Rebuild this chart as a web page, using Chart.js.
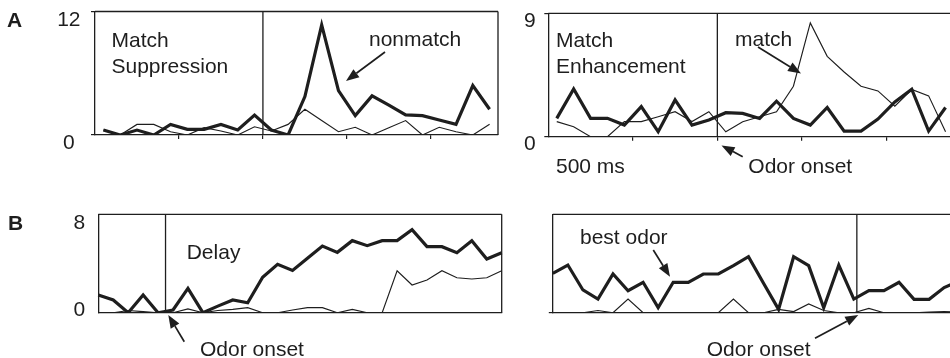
<!DOCTYPE html>
<html>
<head>
<meta charset="utf-8">
<script src="https://cdn.jsdelivr.net/npm/chart.js@4.4.0/dist/chart.umd.min.js"></script>
<style>
  html, body { margin: 0; padding: 0; background: #fff; overflow: hidden; width: 950px; height: 358px; }
  canvas { position: absolute; }
</style>
</head>
<body>
<canvas id="aLeft"  width="520" height="180" style="left:0;top:0"></canvas>
<canvas id="aRight" width="450" height="180" style="left:520px;top:0"></canvas>
<canvas id="bLeft"  width="520" height="178" style="left:0;top:180px"></canvas>
<canvas id="bRight" width="450" height="178" style="left:520px;top:180px"></canvas>
<script>
// Time bins (one firing-rate sample per bin)
const binsA = Array.from({ length: 24 }, (_, i) => String(i + 1));
const binsB = Array.from({ length: 28 }, (_, i) => String(i + 1));

// A, left: match suppression (spikes/s)
const suppNonmatch = [0.48, 0, 0.48, 0, 1.03, 0.55, 0.55, 1.03, 0.48, 1.94, 0.48, 0,
                      3.73, 10.7, 4.31, 1.88, 3.8, 2.9, 1.95, 1.88, 1.46, 1.04, 4.8, 2.5];
const suppMatch    = [0.48, 0, 1.03, 1.03, 0.32, 0, 0.71, 0.39, 0, 0.8, 0.39, 1.03,
                      2.5, 1.4, 0.32, 0.75, 0, 0.71, 1.4, 0, 0.75, 0.32, 0, 1.04];

// A, right: match enhancement
const enhNonmatch  = [1.34, 3.48, 1.34, 1.34, 0.85, 2.19, 0.36, 2.68, 0.85, 1.22, 1.75, 1.7,
                      1.33, 2.59, 1.33, 0.85, 2.13, 0.41, 0.41, 1.28, 2.54, 3.46, 0.41, 2.13];
const enhMatch     = [1.1, 0.73, 0, 0, 1.1, 1.1, 1.46, 1.82, 1.1, 1.82, 0.36, 1.09,
                      1.45, 1.82, 3.68, 8.3, 5.86, 4.72, 3.68, 3.34, 2.23, 3.44, 2.98, 0.36];

// B, left: delay activity
const delayBest    = [1.62, 1.16, 0, 1.62, 0, 0.25, 2.23, 0, 0.6, 1.16, 0.91, 3.24, 4.43, 3.87,
                      4.97, 6.1, 5.52, 6.59, 6.13, 6.59, 6.59, 7.6, 6.04, 6.04, 5.49, 6.59, 4.91, 5.49];
const delayOther   = [0, 0, 0.2, 0.1, 0, 0, 0.35, 0, 0.2, 0.3, 0.46, 0, 0, 0.25,
                      0.46, 0.46, 0, 0.3, 0, 0, 3.84, 2.53, 2.99, 3.84, 3.2, 3.08, 3.2, 3.84];

// B, right: odor selectivity
const odorBest     = [3.6, 4.36, 2.08, 1.25, 3.54, 2.01, 2.78, 0.46, 2.78, 2.78, 3.54, 3.54, 4.3, 5.12,
                      2.7, 0.3, 5.12, 4.3, 0.46, 4.36, 1.25, 2.01, 2.01, 2.78, 1.22, 1.22, 2.3, 2.9];
const odorOther    = [0, 0, 0, 0.2, 0, 1.25, 0, 0, 0, 0, 0, 0, 1.25, 0,
                      0, 0.3, 0.1, 0.8, 0.2, 0, 0, 0.4, 0, 0, 0, 0.05, 0.1, 0.05];

// Y-axis ranges and labelled ticks
const yMaxA = [12, 9];
const yTicksA = [[0, 12], [0, 9]];
const yMaxB = 9;
const yTicksB = [0, 8];

const INK = '#1e1e1e';
const FONT = '"Liberation Sans", Arial, Helvetica, sans-serif';
const TEXT_SIZE = 21;

function drawArrow(ctx, x1, y1, x2, y2) {
  const ang = Math.atan2(y2 - y1, x2 - x1);
  const head = 13, half = 5;
  const bx = x2 - head * Math.cos(ang), by = y2 - head * Math.sin(ang);
  ctx.beginPath();
  ctx.moveTo(x1, y1);
  ctx.lineTo(bx, by);
  ctx.lineWidth = 1.7;
  ctx.stroke();
  ctx.beginPath();
  ctx.moveTo(x2, y2);
  ctx.lineTo(bx + half * Math.sin(ang), by - half * Math.cos(ang));
  ctx.lineTo(bx - half * Math.sin(ang), by + half * Math.cos(ang));
  ctx.closePath();
  ctx.fill();
}

// Frame (top / right edges), stimulus-onset line, captions and arrows
function decor(cfg) {
  return {
    id: 'decor',
    afterDraw(chart) {
      const { ctx, chartArea: a, scales: { x } } = chart;
      ctx.save();
      ctx.strokeStyle = INK;
      ctx.fillStyle = INK;
      ctx.lineWidth = 1.3;
      ctx.beginPath();
      ctx.moveTo(a.left, a.top);
      ctx.lineTo(a.right, a.top);
      if (cfg.rightEdge) {
        ctx.moveTo(a.right, a.top);
        ctx.lineTo(a.right, a.bottom);
      }
      const ox = x.getPixelForValue(cfg.onset);
      ctx.moveTo(ox, a.top);
      ctx.lineTo(ox, a.bottom);
      ctx.stroke();

      ctx.textBaseline = 'alphabetic';
      ctx.textAlign = 'left';
      (cfg.texts || []).forEach(t => {
        ctx.font = (t.bold ? 'bold ' : '') + TEXT_SIZE + 'px ' + FONT;
        ctx.fillText(t.t, t.x, t.y);
      });
      (cfg.arrows || []).forEach(r => drawArrow(ctx, r[0], r[1], r[2], r[3]));
      ctx.restore();
    }
  };
}

function panel(id, cfg) {
  const yTickVals = cfg.yTicks;
  return new Chart(document.getElementById(id), {
    type: 'line',
    data: {
      labels: cfg.bins,
      datasets: [
        { data: cfg.thin,  borderColor: INK, borderWidth: 1.15 },
        { data: cfg.thick, borderColor: INK, borderWidth: 3.2 }
      ]
    },
    options: {
      responsive: false,
      animation: false,
      devicePixelRatio: 1,
      layout: { padding: cfg.pad },
      elements: {
        point: { radius: 0, hoverRadius: 0 },
        line: { tension: 0, fill: false, borderJoinStyle: 'miter', borderCapStyle: 'butt' }
      },
      plugins: { legend: { display: false }, tooltip: { enabled: false } },
      scales: {
        x: {
          type: 'category',
          offset: cfg.offset,
          border: { display: true, color: INK, width: 1.3 },
          grid: {
            display: cfg.xTickMarks,
            offset: cfg.offset,
            drawOnChartArea: false,
            drawTicks: true,
            tickLength: 4,
            lineWidth: 1.2,
            color: c => (c.index > 0 && c.index % 5 === 0) ? INK : 'rgba(0,0,0,0)'
          },
          ticks: { display: true, autoSkip: false, maxRotation: 0, callback: () => '' },
          afterFit: s => { s.height = cfg.xHeight; s.paddingLeft = 0; s.paddingRight = 0; }
        },
        y: {
          min: 0,
          max: cfg.yMax,
          border: { display: true, color: INK, width: 1.3 },
          afterBuildTicks: s => { s.ticks = yTickVals.map(v => ({ value: v })); },
          grid: {
            drawOnChartArea: false,
            drawTicks: cfg.yTickMarks,
            tickLength: 4,
            lineWidth: 1.2,
            color: INK
          },
          ticks: {
            display: cfg.yLabels,
            color: INK,
            font: { family: FONT, size: TEXT_SIZE },
            padding: cfg.yPad,
            crossAlign: cfg.crossAlign || 'near',
            labelOffset: cfg.labelOffset || 0
          },
          afterFit: s => { s.width = cfg.yWidth; s.paddingTop = 0; s.paddingBottom = 0; }
        }
      }
    },
    plugins: [decor(cfg)]
  });
}

panel('aLeft', {
  bins: binsA, thick: suppNonmatch, thin: suppMatch,
  yMax: yMaxA[0], yTicks: yTicksA[0],
  pad: { left: 0, top: 11.5, right: 22, bottom: 0 },
  yWidth: 95, xHeight: 45, offset: true, onset: 9.5,
  xTickMarks: true, yTickMarks: true, yLabels: true,
  yPad: 10.5, crossAlign: 'center', labelOffset: 8.5, rightEdge: true,
  texts: [
    { t: 'A', x: 7, y: 27, bold: true },
    { t: 'Match', x: 111.5, y: 47 },
    { t: 'Suppression', x: 111.5, y: 72.5 },
    { t: 'nonmatch', x: 369, y: 46 }
  ],
  arrows: [[385, 52, 346, 81]]
});

panel('aRight', {
  bins: binsA, thick: enhNonmatch, thin: enhMatch,
  yMax: yMaxA[1], yTicks: yTicksA[1],
  pad: { left: 0, top: 13.3, right: 16, bottom: 0 },
  yWidth: 28.3, xHeight: 43.3, offset: true, onset: 9.5,
  xTickMarks: true, yTickMarks: true, yLabels: true,
  yPad: 8.5, crossAlign: 'center', labelOffset: 7.5, rightEdge: false,
  texts: [
    { t: 'Match', x: 36, y: 47 },
    { t: 'Enhancement', x: 36, y: 72.5 },
    { t: 'match', x: 215, y: 46 },
    { t: '500 ms', x: 36, y: 172.5 },
    { t: 'Odor onset', x: 228.3, y: 172.5 }
  ],
  arrows: [[222.7, 156.7, 201.5, 145.5], [238, 47, 281, 73.5]]
});

panel('bLeft', {
  bins: binsB, thick: delayBest, thin: delayOther,
  yMax: yMaxB, yTicks: yTicksB,
  pad: { left: 0, top: 34.3, right: 18.3, bottom: 0 },
  yWidth: 98.3, xHeight: 45.3, offset: false, onset: 4.5,
  xTickMarks: false, yTickMarks: false, yLabels: true,
  yPad: 13, labelOffset: -2, rightEdge: true,
  texts: [
    { t: 'B', x: 8, y: 50, bold: true },
    { t: 'Delay', x: 186.7, y: 78.5 },
    { t: 'Odor onset', x: 200, y: 175.5 }
  ],
  arrows: [[184.3, 161.7, 168.3, 135]]
});

panel('bRight', {
  bins: binsB, thick: odorBest, thin: odorOther,
  yMax: yMaxB, yTicks: [0],
  pad: { left: 0, top: 34.3, right: 10.8, bottom: 0 },
  yWidth: 32.8, xHeight: 45.3, offset: false, onset: 20.2,
  xTickMarks: false, yTickMarks: true, yLabels: false,
  yPad: 0, rightEdge: false,
  texts: [
    { t: 'best odor', x: 60, y: 63.5 },
    { t: 'Odor onset', x: 186.7, y: 175.5 }
  ],
  arrows: [[133.3, 70, 150, 96.7], [295, 158.3, 338.3, 135]]
});
</script>
</body>
</html>
